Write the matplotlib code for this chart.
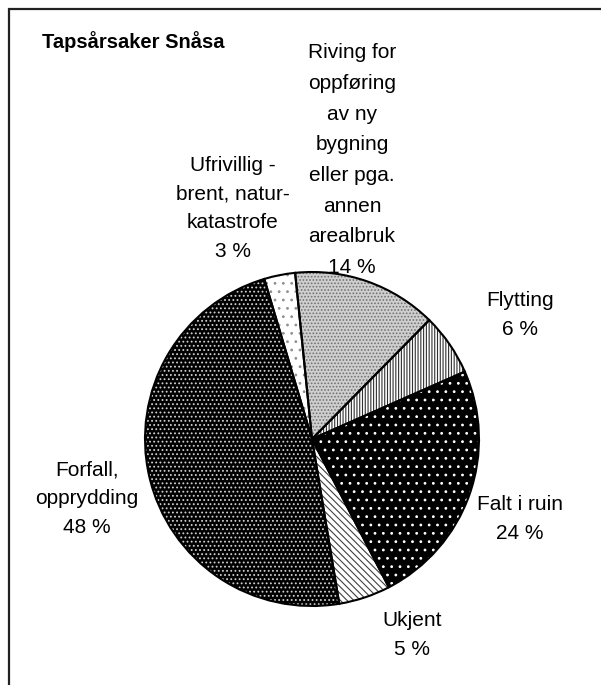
import matplotlib.pyplot as plt
from matplotlib.patches import Rectangle

plt.rcParams['font.family'] = ['Liberation Sans', 'DejaVu Sans']
plt.rcParams['hatch.linewidth'] = 0.8

# data, clockwise from the top
causes = ["Riving for\noppføring\nav ny\nbygning\neller pga.\nannen\narealbruk",
          "Flytting", "Falt i ruin", "Ukjent", "Forfall,\nopprydding",
          "Ufrivillig -\nbrent, natur-\nkatastrofe"]
shares = [14, 6, 24, 5, 48, 3]
title = "Tapsårsaker Snåsa"

# fill look of each slice: face, hatch, hatch colour
faces = ['#cfcfcf', 'white', 'black', 'white', 'black', 'white']
hatches = ['.....', '||||||', '..', '\\\\\\\\\\', '....', '..']
hatch_cols = ['#707070', '#303030', 'white', '#404040', '#d0d0d0', '#909090']

# label anchor (pixel centre of the last line) and line spacing
label_pos = [(352, 266), (520, 328), (520, 532), (412, 648), (87, 526), (233, 250)]
spacing = [1.78, 1.64, 1.64, 1.64, 1.64, 1.64]

W, H = 601, 685
fig = plt.figure(figsize=(W / 100, H / 100), dpi=100)

# frame, cut off at right and bottom
fig.patches.append(Rectangle((9 / W, -0.1), 1.2, (H - 9) / H + 0.1,
                             transform=fig.transFigure, fill=False,
                             edgecolor='#222222', linewidth=1.6))

cx, cy, r = 312, 439, 167
ax = fig.add_axes([(cx - r) / W, (H - cy - r) / H, 2 * r / W, 2 * r / H])

wedges, _ = ax.pie(shares, startangle=95.8, counterclock=False, radius=1,
                   wedgeprops=dict(linewidth=0))
for w, fc, h, hc in zip(wedges, faces, hatches, hatch_cols):
    w.set_facecolor(fc)
    w.set_hatch(h)
    w.set_edgecolor(hc)

# outlines on top
ax.pie(shares, startangle=95.8, counterclock=False, radius=1,
       wedgeprops=dict(fill=False, edgecolor='black', linewidth=1.5))
ax.set_xlim(-1, 1)
ax.set_ylim(-1, 1)
ax.set_aspect('equal')
ax.axis('off')

for name, pct, (x, y), ls in zip(causes, shares, label_pos, spacing):
    fig.text(x / W, 1 - (y + 11) / H, f"{name}\n{pct} %", ha='center', va='bottom',
             fontsize=15, linespacing=ls)

fig.text(42 / W, 1 - 42 / H, title, ha='left', va='center',
         fontsize=14.5, fontweight='bold')

fig.savefig('out.png', dpi=100)
